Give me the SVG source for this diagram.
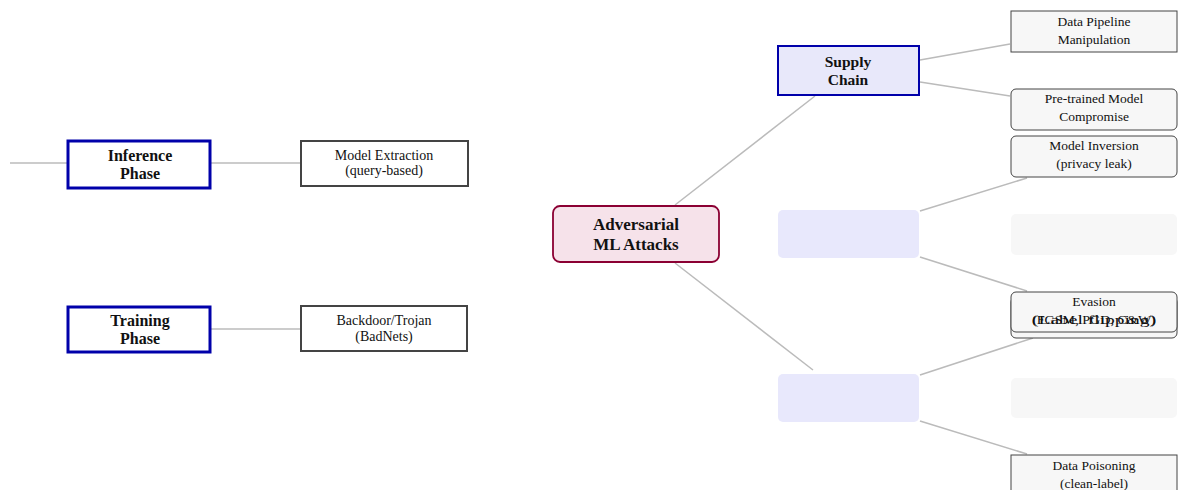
<svg xmlns="http://www.w3.org/2000/svg" width="1180" height="490" viewBox="0 0 1180 490">
<style>
.edge{stroke:#bbbbbb;stroke-width:1.5;fill:none}
.phase{fill:#ffffff;stroke:#0000aa;stroke-width:3}
.leaf2{fill:#ffffff;stroke:#444444;stroke-width:2}
.cat{fill:#e8e8fa;stroke:#0000aa;stroke-width:2}
.ghost{fill:#e8e8fc;stroke:none}
.ghostleaf{fill:#f7f7f7;stroke:none}
.leaf{fill:#f7f7f7;stroke:#444444;stroke-width:1}
.root{fill:#f6e2ea;stroke:#8b0033;stroke-width:1.8}
text{font-family:"Liberation Serif","DejaVu Serif",serif;text-anchor:middle;fill:#111}
.b{font-weight:bold;font-size:16px}
.bs{font-weight:bold;font-size:15.5px}
.rt{font-weight:bold;font-size:17px}
.s{font-size:14px}
.sl{font-size:13.5px}
</style>
<g id="connectors">
<line class="edge" x1="10" y1="163" x2="68" y2="163"/>
<line class="edge" x1="210" y1="163" x2="301" y2="163"/>
<line class="edge" x1="210" y1="329" x2="301" y2="329"/>
<line class="edge" x1="675" y1="205" x2="815" y2="96"/>
<line class="edge" x1="675" y1="263" x2="813" y2="370"/>
<line class="edge" x1="920" y1="60" x2="1010" y2="44"/>
<line class="edge" x1="920" y1="82" x2="1010" y2="96"/>
<line class="edge" x1="920" y1="211" x2="1027" y2="178"/>
<line class="edge" x1="920" y1="257" x2="1027" y2="291"/>
<line class="edge" x1="920" y1="375" x2="1033" y2="338"/>
<line class="edge" x1="920" y1="421" x2="1027" y2="454"/>
</g>
<g id="inference-phase">
<rect class="phase" x="68" y="141" width="142" height="47"/>
<text class="b" x="140" y="161">Inference</text>
<text class="b" x="140" y="179">Phase</text>
</g>
<g id="model-extraction">
<rect class="leaf2" x="301" y="141" width="167" height="45"/>
<text class="s" x="384" y="160">Model Extraction</text>
<text class="s" x="384" y="175">(query-based)</text>
</g>
<g id="training-phase">
<rect class="phase" x="68" y="307" width="142" height="45"/>
<text class="b" x="140" y="326">Training</text>
<text class="b" x="140" y="344">Phase</text>
</g>
<g id="backdoor">
<rect class="leaf2" x="301" y="306" width="166" height="45"/>
<text class="s" x="384" y="325">Backdoor/Trojan</text>
<text class="s" x="384" y="341">(BadNets)</text>
</g>
<g id="root">
<rect class="root" x="553" y="206" width="166" height="56" rx="7"/>
<text class="rt" x="636" y="230">Adversarial</text>
<text class="rt" x="636" y="250">ML Attacks</text>
</g>
<g id="supply-chain">
<rect class="cat" x="778" y="46" width="141" height="49"/>
<text class="bs" x="848" y="67">Supply</text>
<text class="bs" x="848" y="85">Chain</text>
</g>
<g id="category-2">
<rect class="ghost" x="778" y="210" width="141" height="48" rx="5"/>
</g>
<g id="category-3">
<rect class="ghost" x="778" y="374" width="141" height="48" rx="5"/>
</g>
<g id="data-pipeline">
<rect class="leaf" x="1011" y="11" width="166" height="41"/>
<text class="sl" x="1094" y="26">Data Pipeline</text>
<text class="sl" x="1094" y="44">Manipulation</text>
</g>
<g id="pretrained">
<rect class="leaf" x="1011" y="89" width="166" height="41" rx="5"/>
<text class="sl" x="1094" y="103">Pre-trained Model</text>
<text class="sl" x="1094" y="121">Compromise</text>
</g>
<g id="model-inversion">
<rect class="leaf" x="1011" y="136" width="166" height="41" rx="5"/>
<text class="sl" x="1094" y="150">Model Inversion</text>
<text class="sl" x="1094" y="168">(privacy leak)</text>
</g>
<g id="leaf-ghost-1">
<rect class="ghostleaf" x="1011" y="214" width="166" height="41" rx="5"/>
</g>
<g id="label-flipping-box">
<rect class="leaf" x="1011" y="297" width="166" height="41" rx="5"/>
</g>
<g id="evasion">
<rect class="leaf" x="1011" y="292" width="166" height="40" rx="5"/>
<text class="sl" x="1094" y="306">Evasion</text>
<text class="sl" x="1094" y="324" textLength="124" lengthAdjust="spacingAndGlyphs">(FGSM, PGD, C&amp;W)</text>
</g>
<g id="label-flipping">
<text class="sl" x="1094" y="324" textLength="124" lengthAdjust="spacingAndGlyphs">(Label flipping)</text>
</g>
<g id="leaf-ghost-2">
<rect class="ghostleaf" x="1011" y="378" width="166" height="40" rx="5"/>
</g>
<g id="data-poisoning">
<rect class="leaf" x="1011" y="455" width="166" height="41"/>
<text class="sl" x="1094" y="470">Data Poisoning</text>
<text class="sl" x="1094" y="488">(clean-label)</text>
</g>
</svg>
